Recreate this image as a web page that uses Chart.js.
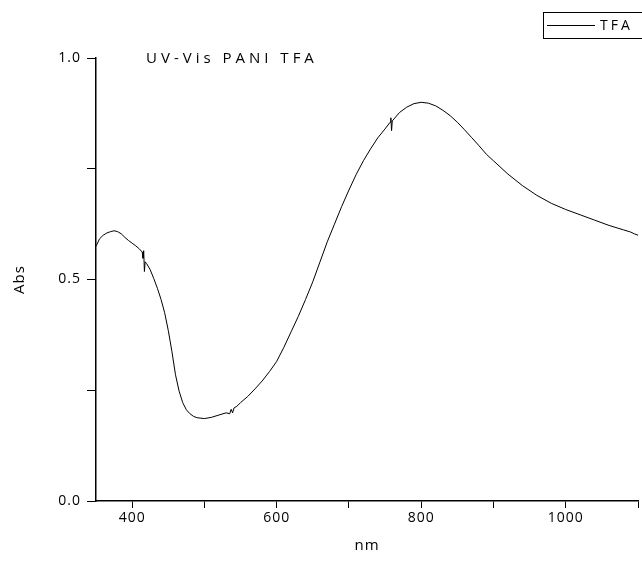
<!DOCTYPE html>
<html>
<head>
<meta charset="utf-8">
<script src="https://cdn.jsdelivr.net/npm/chart.js@4"></script>
<style>
  html, body { margin: 0; padding: 0; background: #fff; }
  canvas { display: block; }
</style>
</head>
<body>
<canvas id="uvChart" width="642" height="565"></canvas>
<script>
// Espectro UV-Vis
const longitudes = [350, 355, 360, 365, 370, 375, 380, 385, 390, 395, 400, 405, 410, 414, 415, 416, 417, 418, 420,
    425, 430, 435, 440, 445, 450, 455, 460, 465, 470, 475, 480, 485, 490, 500, 510, 520, 530, 535, 537, 539, 541,
    545, 550, 560, 570, 580, 590, 600, 610, 620, 630, 640, 650, 660, 670, 680, 690, 700, 710, 720, 730, 740, 750,
    757, 758, 759, 760, 770, 780, 790, 800, 810, 820, 830, 840, 850, 860, 870, 880, 890, 900, 920, 940, 960, 980,
    1000, 1020, 1040, 1060, 1080, 1090, 1095, 1100];
const absorbancia = [0.575, 0.592, 0.600, 0.605, 0.608, 0.610, 0.608, 0.603, 0.595, 0.588, 0.582, 0.576, 0.569,
    0.562, 0.548, 0.565, 0.518, 0.540, 0.536, 0.522, 0.502, 0.480, 0.455, 0.425, 0.385, 0.338, 0.285, 0.248, 0.222,
    0.206, 0.197, 0.191, 0.188, 0.186, 0.189, 0.194, 0.199, 0.197, 0.207, 0.199, 0.210, 0.214, 0.222, 0.236, 0.253,
    0.271, 0.292, 0.315, 0.347, 0.382, 0.417, 0.455, 0.495, 0.540, 0.585, 0.625, 0.665, 0.702, 0.737, 0.768, 0.795,
    0.820, 0.840, 0.855, 0.865, 0.836, 0.858, 0.877, 0.889, 0.897, 0.900, 0.898, 0.892, 0.882, 0.870, 0.855, 0.838,
    0.820, 0.802, 0.783, 0.768, 0.738, 0.712, 0.690, 0.672, 0.658, 0.646, 0.634, 0.622, 0.612, 0.607, 0.603, 0.600];

const marcasX = [400, 500, 600, 700, 800, 900, 1000, 1100];
const etiquetasX = [400, 600, 800, 1000];
const marcasY = [0, 0.25, 0.5, 0.75, 1.0];
const etiquetasY = [0, 0.5, 1.0];
const tituloGrafico = 'UV-Vis PANI TFA';
const nombreSerie = 'TFA';

const fuente = '"Open Sans", "DejaVu Sans", sans-serif';

// Texto extra: titulo interno y leyenda con marco
const textosExtra = {
    id: 'textosExtra',
    beforeDraw(chart) {
        chart.ctx.letterSpacing = '1px';
    },
    afterDraw(chart) {
        const ctx = chart.ctx;
        ctx.save();
        ctx.fillStyle = '#000';
        ctx.font = '15px ' + fuente;
        ctx.letterSpacing = '4px';
        ctx.textBaseline = 'middle';
        ctx.fillText(tituloGrafico, 146, 59);

        // leyenda
        ctx.strokeStyle = '#000';
        ctx.lineWidth = 1;
        ctx.strokeRect(543.5, 12.5, 100, 26);
        ctx.beginPath();
        ctx.moveTo(547, 25.5);
        ctx.lineTo(595, 25.5);
        ctx.stroke();
        ctx.font = '14px ' + fuente;
        ctx.letterSpacing = '3px';
        ctx.fillText(nombreSerie, 600, 26);
        ctx.restore();
    }
};

new Chart(document.getElementById('uvChart'), {
    type: 'line',
    data: {
        datasets: [{
            label: nombreSerie,
            data: longitudes.map((x, i) => ({ x: x, y: absorbancia[i] })),
            borderColor: '#000',
            borderWidth: 1,
            pointRadius: 0,
            tension: 0,
            fill: false
        }]
    },
    options: {
        responsive: false,
        animation: false,
        layout: { padding: { top: 58, right: 4, left: 0, bottom: 0 } },
        plugins: {
            legend: { display: false },
            tooltip: { enabled: false }
        },
        scales: {
            x: {
                type: 'linear',
                min: 350,
                max: 1100,
                afterBuildTicks: (eje) => {
                    eje.ticks = marcasX.map(v => ({ value: v }));
                },
                afterFit: (eje) => { eje.height = 64; },
                ticks: {
                    autoSkip: false,
                    color: '#000',
                    font: { size: 14, family: fuente },
                    padding: 2,
                    maxRotation: 0,
                    callback: (v) => etiquetasX.includes(v) ? String(v) : ''
                },
                grid: { drawOnChartArea: false, tickLength: 7, color: '#000', lineWidth: 1 },
                border: { color: '#000', width: 1.5 },
                title: {
                    display: true,
                    text: 'nm',
                    color: '#000',
                    font: { size: 15, family: fuente },
                    padding: { top: 4, bottom: 10 }
                }
            },
            y: {
                min: 0,
                max: 1,
                afterBuildTicks: (eje) => {
                    eje.ticks = marcasY.map(v => ({ value: v }));
                },
                afterFit: (eje) => { eje.width = 96; },
                ticks: {
                    autoSkip: false,
                    color: '#000',
                    font: { size: 14, family: fuente },
                    padding: 6,
                    callback: (v) => etiquetasY.some(e => Math.abs(e - v) < 1e-9) ? v.toFixed(1) : ''
                },
                grid: { drawOnChartArea: false, tickLength: 9, color: '#000', lineWidth: 1 },
                border: { color: '#000', width: 1.5 },
                title: {
                    display: true,
                    text: 'Abs',
                    color: '#000',
                    font: { size: 15, family: fuente },
                    padding: { top: 11, bottom: 4 }
                }
            }
        }
    },
    plugins: [textosExtra]
});
</script>
</body>
</html>
